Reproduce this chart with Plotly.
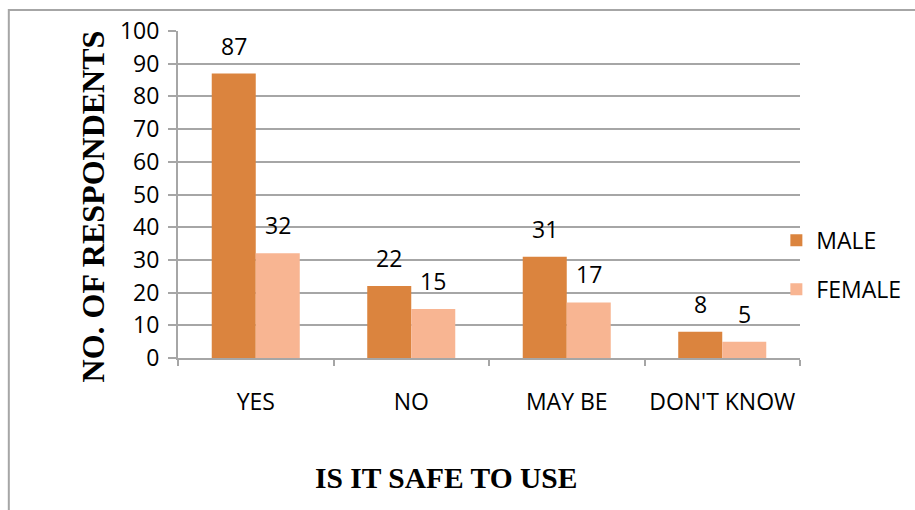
import plotly.graph_objects as go

categories = ["YES", "NO", "MAY BE", "DON'T KNOW"]
male = [87, 22, 31, 8]
female = [32, 15, 17, 5]
y_ticks = [0, 10, 20, 30, 40, 50, 60, 70, 80, 90, 100]

MALE_COLOR = "#DB843E"
FEMALE_COLOR = "#F8B592"
GRID = "#A6A6A6"
SANS = "'Open Sans', Lato, 'Liberation Sans', sans-serif"
SERIF = "'Liberation Serif', 'DejaVu Serif', serif"
FS = 23

fig = go.Figure()
fig.add_trace(go.Bar(name="MALE", x=categories, y=male, marker_color=MALE_COLOR,
                     marker_line_width=0, legend="legend"))
fig.add_trace(go.Bar(name="FEMALE", x=categories, y=female, marker_color=FEMALE_COLOR,
                     marker_line_width=0, legend="legend2"))

# value labels floating above each bar
annotations = []
for i, cat in enumerate(categories):
    for val, xs in ((male[i], -0.14), (female[i], 0.14)):
        annotations.append(dict(x=i + xs, y=val, xref="x", yref="y", text=str(val),
                                showarrow=False, yshift=28,
                                font=dict(family=SANS, size=FS, color="#000")))

annotations.append(dict(text="<b>NO. OF RESPONDENTS</b>", textangle=-90,
                        xref="paper", yref="paper", x=-0.137, y=0.463,
                        xanchor="center", yanchor="middle",
                        showarrow=False, font=dict(family=SERIF, size=32, color="#000")))
annotations.append(dict(text="<b>IS IT SAFE TO USE</b>",
                        xref="paper", yref="paper", x=0.431, y=-0.367,
                        xanchor="center", yanchor="middle",
                        showarrow=False, font=dict(family=SERIF, size=29.5, color="#000")))

legend_font = dict(family=SANS, size=FS, color="#000")
fig.update_layout(
    width=915, height=510,
    margin=dict(l=178, r=115, t=31, b=152, autoexpand=False),
    paper_bgcolor="white", plot_bgcolor="white",
    showlegend=True,
    barmode="group", bargap=0.434, bargroupgap=0,
    font=dict(family=SANS, size=FS, color="#000"),
    annotations=annotations,
    legend=dict(x=0.962, y=0.36, xanchor="left", yanchor="middle", font=legend_font,
                bgcolor="rgba(0,0,0,0)", itemwidth=30),
    legend2=dict(x=0.962, y=0.21, xanchor="left", yanchor="middle", font=legend_font,
                 bgcolor="rgba(0,0,0,0)", itemwidth=30),
    shapes=[dict(type="rect", xref="paper", yref="paper",
                 x0=-0.272, x1=1.3, y0=-0.6, y1=1.064,
                 line=dict(color=GRID, width=2), layer="below")],
    xaxis=dict(showline=True, linecolor=GRID, linewidth=2, ticks="outside",
               tickcolor=GRID, ticklen=6, tickwidth=2, tickson="boundaries",
               showgrid=False, tickangle=0,
               tickfont=dict(family=SANS, size=FS, color="#000"),
               ticklabelstandoff=22),
    yaxis=dict(range=[0, 100], tickvals=y_ticks, showline=True, linecolor=GRID,
               linewidth=2, ticks="outside", tickcolor=GRID, ticklen=8, tickwidth=2,
               showgrid=True, gridcolor=GRID, gridwidth=2, zeroline=False,
               tickfont=dict(family=SANS, size=FS, color="#000"), ticklabelstandoff=4),
)

fig.write_html("out.html")
